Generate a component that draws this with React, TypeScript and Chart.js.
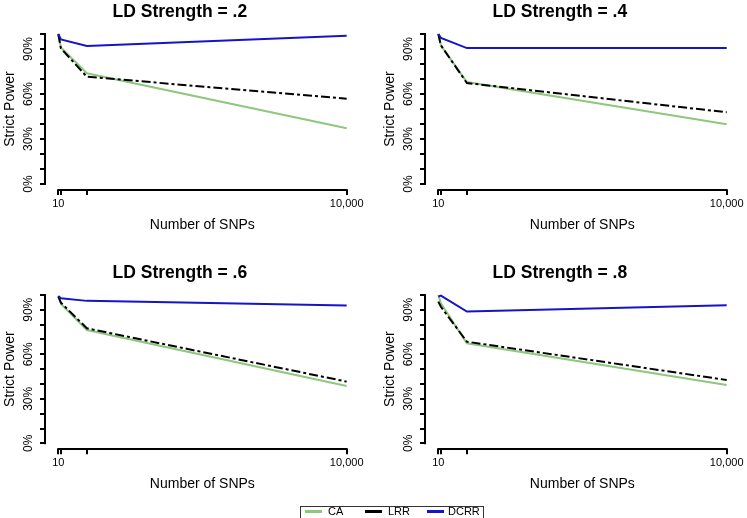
import React, { useEffect, useRef } from "react";
import { Chart, registerables } from "chart.js";

Chart.register(...registerables);

// ---- data ----
const snpCounts = [10, 100, 1000, 10000];
const panelTitles = ["LD Strength = .2", "LD Strength = .4", "LD Strength = .6", "LD Strength = .8"];
const seriesNames = ["CA", "LRR", "DCRR"];
const caPower = [
  [100, 91, 73.8, 37.1],
  [100, 92.5, 68, 39.8],
  [99.3, 93.9, 76.4, 38.7],
  [100, 94.4, 67.4, 39.3],
];
const lrrPower = [
  [100, 90.4, 71.5, 56.9],
  [100, 92.4, 67.3, 47.8],
  [98.9, 94.8, 77.5, 41.6],
  [95.5, 92, 68.5, 42.7],
];
const dcrrPower = [
  [100, 96.4, 92, 98.9],
  [100, 97.4, 90.6, 90.6],
  [99.3, 97.8, 96, 92.8],
  [98.9, 99.6, 88.8, 93],
];
const yTickValues = [0, 10, 20, 30, 40, 50, 60, 70, 80, 90, 100];
const yTickLabels = ["0%", "", "", "30%", "", "", "60%", "", "", "90%", ""];
const xTickValues = [10, 100, 1000, 10000];
const xTickLabels = ["10", "", "", "10,000"];
const xAxisTitle = "Number of SNPs";
const yAxisTitle = "Strict Power";

// ---- styles ----
const FONT = "'Liberation Sans', Arial, Helvetica, sans-serif";
const seriesColors = ["#8fc77f", "#000000", "#1414c8"];
const seriesDash = [[], [9, 3, 3, 3], []];

const panelLayout = [
  { left: 0, top: 0, xAxisHeight: 55, xTitlePad: 11.6 },
  { left: 380, top: 0, xAxisHeight: 55, xTitlePad: 11.6 },
  { left: 0, top: 261, xAxisHeight: 56.7, xTitlePad: 13.6 },
  { left: 380, top: 261, xAxisHeight: 56.7, xTitlePad: 13.6 },
];
const PANEL_W = 367;
const PANEL_H = 245;

const axisLinesPlugin = {
  id: "axisLines",
  afterDraw(chart: any) {
    const { ctx, chartArea } = chart;
    const x = chart.scales.x;
    const y = chart.scales.y;
    ctx.save();
    ctx.strokeStyle = "#000";
    ctx.lineWidth = 2;
    ctx.lineCap = "butt";
    ctx.beginPath();
    const yb = Math.round(chartArea.bottom);
    ctx.moveTo(x.getPixelForValue(xTickValues[0]) - 1, yb);
    ctx.lineTo(x.getPixelForValue(xTickValues[xTickValues.length - 1]) + 1, yb);
    const xl = Math.round(chartArea.left);
    ctx.moveTo(xl, y.getPixelForValue(yTickValues[0]) + 1);
    ctx.lineTo(xl, y.getPixelForValue(yTickValues[yTickValues.length - 1]) - 1);
    ctx.stroke();
    ctx.restore();
  },
};

function Panel({ index }: { index: number }) {
  const ref = useRef<HTMLCanvasElement | null>(null);
  const lay = panelLayout[index];
  useEffect(() => {
    if (!ref.current) return;
    const seriesData = [caPower[index], lrrPower[index], dcrrPower[index]];
    const chart = new Chart(ref.current, {
      type: "line",
      data: {
        datasets: seriesNames.map((name, i) => ({
          label: name,
          data: snpCounts.map((c, j) => ({ x: c, y: seriesData[i][j] })),
          borderColor: seriesColors[i],
          backgroundColor: seriesColors[i],
          borderWidth: 2,
          borderDash: seriesDash[i],
          pointRadius: 0,
          tension: 0,
          fill: false,
          order: 3 - i,
        })),
      },
      options: {
        animation: false,
        responsive: false,
        devicePixelRatio: 1,
        layout: { padding: { left: 0, right: 7.3, top: 0, bottom: 0 } },
        plugins: {
          legend: { display: false },
          tooltip: { enabled: false },
          title: {
            display: true,
            text: panelTitles[index],
            color: "#000",
            font: { family: FONT, size: 17.5, weight: "bold" },
            padding: { top: 2, bottom: 5 },
          },
        },
        scales: {
          x: {
            type: "linear",
            min: -451,
            max: 10451,
            afterBuildTicks: (s: any) => {
              s.ticks = xTickValues.map((v) => ({ value: v }));
            },
            afterFit: (s: any) => {
              s.height = lay.xAxisHeight;
            },
            ticks: {
              autoSkip: false,
              maxRotation: 0,
              minRotation: 0,
              padding: 2,
              color: "#000",
              font: { family: FONT, size: 11 },
              callback: (_v: any, i: number) => xTickLabels[i],
            },
            grid: {
              display: true,
              drawOnChartArea: false,
              drawTicks: true,
              tickLength: 5,
              color: "#000",
              lineWidth: 2,
            },
            border: { display: false },
            title: {
              display: true,
              text: xAxisTitle,
              color: "#000",
              font: { family: FONT, size: 14 },
              padding: { top: 0, bottom: lay.xTitlePad },
            },
          },
          y: {
            type: "linear",
            min: -4,
            max: 104,
            afterBuildTicks: (s: any) => {
              s.ticks = yTickValues.map((v) => ({ value: v }));
            },
            afterFit: (s: any) => {
              s.width = 45;
            },
            ticks: {
              autoSkip: false,
              minRotation: 90,
              maxRotation: 90,
              crossAlign: "center",
              padding: -1,
              color: "#000",
              font: { family: FONT, size: 12 },
              callback: (_v: any, i: number) => yTickLabels[i],
            },
            grid: {
              display: true,
              drawOnChartArea: false,
              drawTicks: true,
              tickLength: 5,
              color: "#000",
              lineWidth: 2,
            },
            border: { display: false },
            title: {
              display: true,
              text: yAxisTitle,
              color: "#000",
              font: { family: FONT, size: 14 },
              padding: { top: 2, bottom: 0 },
            },
          },
        },
      },
      plugins: [axisLinesPlugin],
    } as any);
    return () => chart.destroy();
  }, [index]);
  return (
    <canvas
      ref={ref}
      width={PANEL_W}
      height={PANEL_H}
      style={{ position: "absolute", left: lay.left, top: lay.top, width: PANEL_W, height: PANEL_H }}
    />
  );
}

function Legend() {
  const items = [
    { line: 305, text: 328 },
    { line: 365, text: 388 },
    { line: 427, text: 448 },
  ];
  return (
    <div
      style={{
        position: "absolute",
        left: 300,
        top: 506,
        width: 184,
        height: 14,
        border: "1px solid #333",
        boxSizing: "border-box",
        background: "#fff",
      }}
    >
      {seriesNames.map((name, i) => (
        <React.Fragment key={name}>
          <div
            style={{
              position: "absolute",
              left: items[i].line - 301,
              top: 3,
              width: 17,
              height: 3,
              background: seriesColors[i],
            }}
          />
          <div
            style={{
              position: "absolute",
              left: items[i].text - 301,
              top: -2,
              font: `11px ${FONT}`,
              lineHeight: "13px",
              color: "#000",
              whiteSpace: "nowrap",
            }}
          >
            {name}
          </div>
        </React.Fragment>
      ))}
    </div>
  );
}

export default function App() {
  return (
    <div
      style={{
        position: "fixed",
        left: 0,
        top: 0,
        width: 747,
        height: 518,
        overflow: "hidden",
        background: "#fff",
      }}
    >
      {panelTitles.map((_t, i) => (
        <Panel key={i} index={i} />
      ))}
      <Legend />
    </div>
  );
}
